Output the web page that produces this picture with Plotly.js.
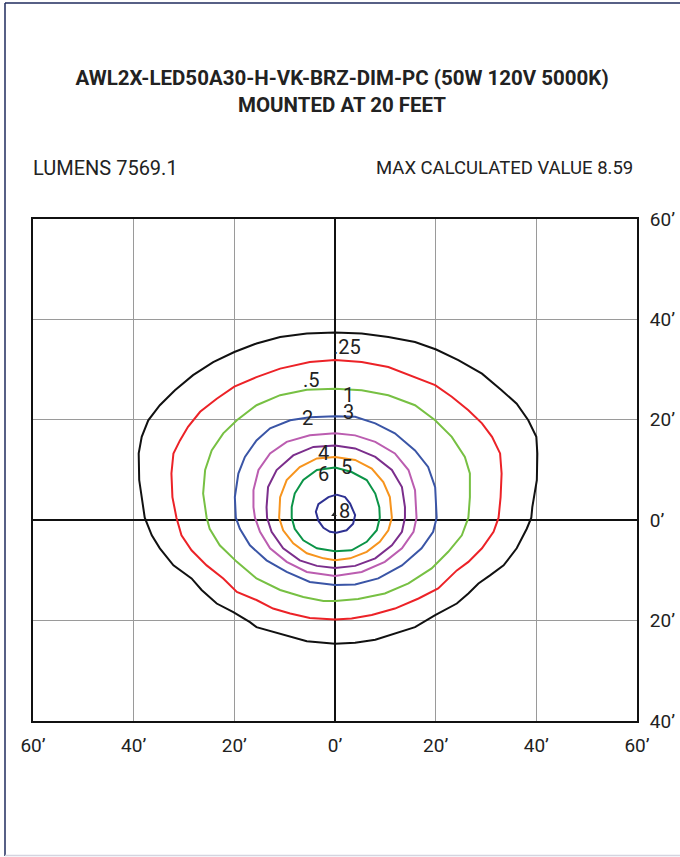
<!DOCTYPE html>
<html>
<head>
<meta charset="utf-8">
<script src="https://cdn.plot.ly/plotly-3.0.1.min.js"></script>
<style>html,body{margin:0;padding:0;background:#fff;}#chart{width:680px;height:857px;}</style>
</head>
<body>
<div id="chart"></div>
<script>
// ---- Data (feet) ----
var levels = ['.25', '.5', '1', '2', '3', '4', '5', '6', '8'];
var levelColors = ['#111111', '#ec2227', '#77c043', '#3a55a6', '#bb5db0', '#7b2e8c', '#f7941d', '#0b9447', '#2e3192'];

var c025_x = [0,-5.6,-10.9,-15.6,-20,-24.2,-28.2,-31.8,-34.8,-37.1,-38.4,-39.0,-38.9,-38.1,-37.8,-36.4,-34.8,-32.1,-28.5,-26.5,-23.5,-20.2,-16.9,-15.6,-12.3,-8.9,-5.6,0,4.0,8.0,11.9,15.9,19.9,24.2,26.5,28.5,30.8,33.5,36.1,38.1,39.0,39.2,40.1,40.2,40.0,38.4,36.1,33.1,29.2,24.5,20.1,15.9,10.6,5.3,0];
var c025_y = [37.4,37.2,36.5,35.2,33.5,31.5,28.9,25.9,22.9,19.9,16.6,13.3,8.0,2.6,0.5,-3.0,-5.6,-9.0,-11.6,-13.9,-16.6,-18.3,-20.3,-21.3,-22.2,-23.2,-24.1,-24.6,-24.4,-23.8,-22.6,-21.3,-18.9,-16.6,-14.6,-12.6,-11.0,-9.0,-5.6,-1.7,0.5,2.6,8.0,13.3,16.6,19.9,23.2,25.9,29.2,31.9,34.0,35.5,36.5,37.2,37.4];

var c05_x = [0,-5.0,-10.9,-15.6,-20.0,-23.5,-26.8,-29.2,-30.8,-32.1,-32.5,-32.3,-31.5,-30.5,-28.5,-25.5,-22.2,-19.5,-15.6,-12.3,-8.9,-5.0,0,3.3,7.3,11.9,16.6,20.5,24.2,26.5,29.2,31.5,32.5,32.9,33.1,32.8,31.2,29.2,26.5,23.2,19.9,15.9,10.6,5.3,0];
var c05_y = [31.9,31.5,30.2,28.5,26.6,24.2,21.6,18.6,15.9,13.3,9.3,4.6,0.5,-3.0,-6.0,-9.0,-11.6,-14.3,-15.9,-17.6,-18.6,-19.5,-19.8,-19.6,-18.9,-17.6,-15.6,-13.6,-10.0,-8.3,-5.6,-2.3,0.5,4.6,9.3,13.3,16.6,19.3,21.9,24.6,26.9,28.5,30.5,31.5,31.9];

var c1_x = [0,-5.6,-10.9,-15.6,-19.5,-22.2,-24.5,-25.8,-26.2,-25.5,-24.9,-22.9,-19.5,-15.6,-10.9,-6.3,-2.3,0,4.6,9.9,14.6,19.2,22.5,25.2,26.5,26.8,26.8,25.8,23.2,19.9,15.9,10.6,5.3,0];
var c1_y = [26.2,26.0,24.9,22.9,19.9,17.3,13.9,10.0,5.3,0.5,-1.7,-5.0,-8.3,-11.6,-13.9,-15.3,-16.1,-16.1,-15.7,-14.6,-12.6,-9.6,-6.3,-3.0,0.5,4.6,9.3,12.6,16.6,19.9,22.9,24.9,25.9,26.2];

var c2_x = [0,-5.0,-8.9,-12.9,-15.6,-17.9,-19.2,-19.9,-19.7,-18.9,-16.9,-13.6,-9.6,-5.0,0,4.0,8.6,13.3,17.2,19.5,20.2,19.9,18.5,15.9,11.9,8.0,4.0,0];
var c2_y = [20.7,20.5,19.9,18.3,15.9,12.6,9.3,4.6,0.5,-1.7,-5.0,-8.0,-10.3,-12.3,-12.9,-12.8,-11.6,-9.0,-5.6,-2.3,0.5,6.6,10.6,13.9,17.3,19.3,20.6,20.7];

var c3_x = [0,-5.0,-9.6,-12.9,-15.2,-16.2,-16.2,-15.9,-14.9,-12.9,-9.6,-5.6,0,5.3,9.9,13.3,15.6,16.2,15.9,14.6,11.9,8.0,4.0,0];
var c3_y = [17.3,16.9,15.6,13.3,10.0,6.0,2.6,0.5,-2.3,-5.6,-8.3,-10.3,-11.1,-10.3,-8.3,-5.6,-2.3,0.5,6.0,10.0,13.3,15.6,16.9,17.3];

var c4_x = [0,-4.3,-8.3,-11.6,-13.3,-13.6,-13.5,-12.6,-10.3,-7.0,-3.6,0,4.0,8.0,11.3,13.3,13.9,13.9,13.3,11.3,8.0,4.0,0];
var c4_y = [14.9,14.6,12.9,10.0,6.6,2.6,0.5,-2.3,-5.6,-8.0,-9.1,-9.5,-9.1,-7.6,-5.0,-2.3,0.5,2.6,6.6,10.0,12.6,14.3,14.9];

var c5_x = [0,-3.6,-7.0,-9.6,-10.9,-11.1,-10.3,-8.3,-5.6,-2.3,0,3.0,6.3,8.9,10.6,11.3,10.9,9.6,7.3,4.0,0];
var c5_y = [12.6,12.3,10.6,8.0,4.6,0.5,-2.0,-4.6,-6.6,-7.6,-8.0,-7.6,-6.3,-4.3,-2.0,0.5,4.6,7.6,10.3,12.0,12.6];

var c6_x = [0,-3.6,-6.3,-8.0,-8.6,-8.6,-8.0,-6.3,-3.6,0,3.3,6.3,8.3,8.9,8.8,8.0,6.3,3.3,0];
var c6_y = [10.5,10.0,8.0,5.3,2.6,0.5,-1.7,-4.0,-5.6,-6.2,-6.0,-4.3,-2.0,0.5,2.6,5.3,8.0,9.6,10.5];

var c8_x = [0.3,-1.3,-3.3,-3.8,-3.3,-2.3,-1.0,0.3,2.3,3.6,4.0,3.0,2.0,0.3];
var c8_y = [5.1,4.6,3.2,1.7,-0.1,-1.5,-2.3,-2.5,-2.0,-0.7,1.0,3.3,4.6,5.1];

// contour label positions (feet)
var labelText = ['.25', '.5', '1', '3', '2', '4', '6', '5', '8'];
var labelX = [2.4, -4.7, 2.6, 2.6, -5.4, -2.3, -2.3, 2.3, 1.9];
var labelY = [34.5, 27.9, 24.9, 21.5, 20.4, 13.4, 9.3, 10.6, 1.9];

// luminaire location
var lumX = [-0.2];
var lumY = [1.1];

var xTickVals = [-60, -40, -20, 0, 20, 40, 60];
var xTickText = ['60\u2019', '40\u2019', '20\u2019', '0\u2019', '20\u2019', '40\u2019', '60\u2019'];
var yTickVals = [-40, -20, 0, 20, 40, 60];
var yTickText = ['40\u2019', '20\u2019', '0\u2019', '20\u2019', '40\u2019', '60\u2019'];

var titleLine1 = 'AWL2X-LED50A30-H-VK-BRZ-DIM-PC (50W 120V 5000K)';
var titleLine2 = 'MOUNTED AT 20 FEET';
var lumensText = 'LUMENS 7569.1';
var maxText = 'MAX CALCULATED VALUE 8.59';

// ---- Build ----
var xs = [c025_x, c05_x, c1_x, c2_x, c3_x, c4_x, c5_x, c6_x, c8_x];
var ys = [c025_y, c05_y, c1_y, c2_y, c3_y, c4_y, c5_y, c6_y, c8_y];
var FONT = 'Roboto, "Liberation Sans", Arial, sans-serif';

var traces = xs.map(function (x, i) {
  return {
    type: 'scatter', mode: 'lines', x: x, y: ys[i], name: levels[i],
    line: { color: levelColors[i], width: 2, shape: 'linear' },
    hoverinfo: 'skip', showlegend: false
  };
});
traces.push({
  type: 'scatter', mode: 'markers', x: lumX, y: lumY, showlegend: false, hoverinfo: 'skip',
  marker: { symbol: 'triangle-up', size: 5, color: '#222' }
});

var L = 33, R = 43, T = 219, B = 136, W = 680, H = 857;
var pw = W - L - R, ph = H - T - B;
function px2x(p) { return (p - L) / pw; }
function py2y(p) { return (H - B - p) / ph; }

var annotations = labelText.map(function (t, i) {
  return { text: t, x: labelX[i], y: labelY[i], xref: 'x', yref: 'y', showarrow: false,
    xanchor: 'center', yanchor: 'middle', font: { family: FONT, size: 20, color: '#222' } };
});
annotations.push({ text: lumensText, xref: 'paper', yref: 'paper', x: px2x(31), y: py2y(168),
  xanchor: 'left', yanchor: 'middle', showarrow: false, font: { family: FONT, size: 20, color: '#222' } });
annotations.push({ text: maxText, xref: 'paper', yref: 'paper', x: px2x(635), y: py2y(168),
  xanchor: 'right', yanchor: 'middle', showarrow: false, font: { family: FONT, size: 18.5, color: '#222' } });

var layout = {
  width: W, height: H,
  margin: { l: L, r: R, t: T, b: B, pad: 0 },
  paper_bgcolor: '#fff', plot_bgcolor: '#fff',
  title: { text: '<b>' + titleLine1 + '<br>' + titleLine2 + '</b>', x: 0.503, xanchor: 'center',
    y: 1 - 85 / H, yanchor: 'middle', yref: 'container',
    font: { family: FONT, size: 20.5, color: '#222' } },
  xaxis: { range: [-60, 60], tickmode: 'array', tickvals: xTickVals, ticktext: xTickText,
    showgrid: true, gridcolor: '#9a9a9a', gridwidth: 1,
    zeroline: true, zerolinecolor: '#111', zerolinewidth: 2,
    showline: true, mirror: true, linecolor: '#111', linewidth: 2,
    ticks: 'outside', ticklen: 6, tickcolor: 'rgba(0,0,0,0)',
    tickfont: { family: FONT, size: 19, color: '#222' }, fixedrange: true },
  yaxis: { range: [-40, 60], side: 'right', tickmode: 'array', tickvals: yTickVals, ticktext: yTickText,
    showgrid: true, gridcolor: '#9a9a9a', gridwidth: 1,
    zeroline: true, zerolinecolor: '#111', zerolinewidth: 2,
    showline: true, mirror: true, linecolor: '#111', linewidth: 2,
    ticks: 'outside', ticklen: 7, tickcolor: 'rgba(0,0,0,0)',
    tickfont: { family: FONT, size: 19, color: '#222' }, fixedrange: true },
  annotations: annotations,
  shapes: [
    { type: 'line', xref: 'paper', yref: 'paper', x0: px2x(5), x1: px2x(5), y0: py2y(3), y1: py2y(856),
      line: { color: '#1f2b5e', width: 1.5 } },
    { type: 'line', xref: 'paper', yref: 'paper', x0: px2x(5), x1: px2x(690), y0: py2y(3), y1: py2y(3),
      line: { color: '#1f2b5e', width: 1.5 } },
    { type: 'line', xref: 'paper', yref: 'paper', x0: px2x(5), x1: px2x(690), y0: py2y(855.5), y1: py2y(855.5),
      line: { color: '#d4d4e0', width: 1.5 } }
  ]
};

Plotly.newPlot('chart', traces, layout, { staticPlot: true, displayModeBar: false });
</script>
</body>
</html>
